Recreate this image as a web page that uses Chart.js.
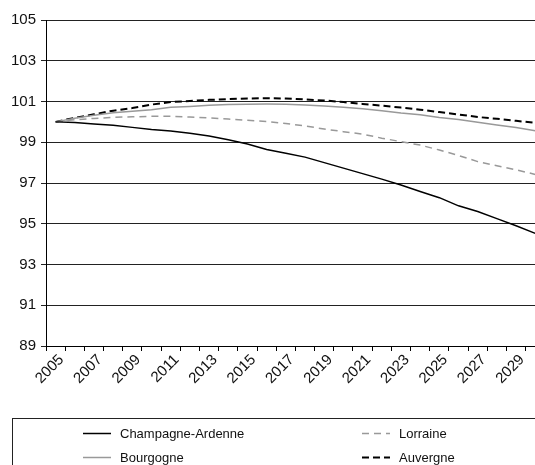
<!DOCTYPE html>
<html>
<head>
<meta charset="utf-8">
<script src="https://cdn.jsdelivr.net/npm/chart.js@4.4.1/dist/chart.umd.min.js"></script>
<style>
  html, body { margin: 0; padding: 0; overflow: hidden; background: #fff; width: 535px; height: 465px; }
  #wrap { position: absolute; left: 0; top: 0; width: 548px; height: 465px; }
</style>
</head>
<body>
<div id="wrap"><canvas id="c" width="548" height="465"></canvas></div>
<script>
const years = ['2005','2006','2007','2008','2009','2010','2011','2012','2013','2014','2015','2016','2017',
  '2018','2019','2020','2021','2022','2023','2024','2025','2026','2027','2028','2029','2030'];
const yTicks = [89, 91, 93, 95, 97, 99, 101, 103, 105];

const champagneArdenne = [100.00, 99.97, 99.90, 99.83, 99.73, 99.62, 99.55, 99.44, 99.31, 99.12, 98.91, 98.64, 98.46,
  98.27, 98.00, 97.73, 97.46, 97.19, 96.90, 96.58, 96.28, 95.88, 95.60, 95.25, 94.90, 94.53];
const lorraine = [100.00, 100.10, 100.17, 100.22, 100.25, 100.27, 100.27, 100.24, 100.20, 100.14, 100.08, 100.02, 99.92,
  99.80, 99.65, 99.52, 99.40, 99.20, 99.03, 98.86, 98.62, 98.35, 98.05, 97.85, 97.65, 97.42];
const bourgogne = [100.00, 100.18, 100.33, 100.45, 100.52, 100.60, 100.72, 100.76, 100.82, 100.85, 100.87, 100.88, 100.87,
  100.83, 100.78, 100.72, 100.64, 100.55, 100.43, 100.35, 100.22, 100.12, 99.98, 99.85, 99.72, 99.57];
const auvergne = [100.00, 100.20, 100.37, 100.55, 100.68, 100.85, 100.97, 101.03, 101.08, 101.12, 101.15, 101.16, 101.15,
  101.10, 101.05, 100.97, 100.88, 100.80, 100.70, 100.60, 100.48, 100.36, 100.24, 100.15, 100.05, 99.95];

const seriesNames = ['Champagne-Ardenne', 'Lorraine', 'Bourgogne', 'Auvergne'];

const FONT = '"Liberation Sans", Arial, Helvetica, sans-serif';

const legendPlugin = {
  id: 'boxLegend',
  afterDraw(chart) {
    const ctx = chart.ctx;
    ctx.save();
    ctx.strokeStyle = '#222';
    ctx.lineWidth = 1;
    ctx.strokeRect(12.5, 418.5, 600, 100);
    const pos = [
      {x: 83, y: 433},
      {x: 362, y: 433},
      {x: 83, y: 457},
      {x: 362, y: 457}
    ];
    chart.data.datasets.forEach((ds, i) => {
      const p = pos[i];
      ctx.beginPath();
      ctx.strokeStyle = ds.borderColor;
      ctx.lineWidth = ds.borderWidth;
      ctx.setLineDash(ds.borderDash || []);
      ctx.moveTo(p.x, p.y + 0.5);
      ctx.lineTo(p.x + 28, p.y + 0.5);
      ctx.stroke();
      ctx.setLineDash([]);
      ctx.fillStyle = '#111';
      ctx.font = '13px ' + FONT;
      ctx.textBaseline = 'middle';
      ctx.textAlign = 'left';
      ctx.fillText(ds.label, p.x + 37, p.y + 1);
    });
    ctx.restore();
  }
};

new Chart(document.getElementById('c'), {
  type: 'line',
  data: {
    labels: years,
    datasets: [
      { label: seriesNames[0], data: champagneArdenne, borderColor: '#000', borderWidth: 1.5, pointRadius: 0, tension: 0 },
      { label: seriesNames[1], data: lorraine, borderColor: '#999', borderWidth: 1.5, borderDash: [7, 5], pointRadius: 0, tension: 0 },
      { label: seriesNames[2], data: bourgogne, borderColor: '#999', borderWidth: 1.5, pointRadius: 0, tension: 0 },
      { label: seriesNames[3], data: auvergne, borderColor: '#000', borderWidth: 2, borderDash: [7, 4], pointRadius: 0, tension: 0 }
    ]
  },
  options: {
    responsive: false,
    animation: false,
    devicePixelRatio: 1,
    layout: { padding: { top: 20, right: 0, bottom: 74, left: 0 } },
    plugins: { legend: { display: false }, tooltip: { enabled: false } },
    scales: {
      x: {
        type: 'category',
        offset: true,
        grid: { offset: true, drawOnChartArea: false, drawTicks: true, tickLength: 5, color: '#000', lineWidth: 1 },
        border: { display: true, color: '#000', width: 1 },
        ticks: {
          autoSkip: false,
          maxRotation: 45,
          minRotation: 45,
          color: '#111',
          font: { family: FONT, size: 15 },
          padding: 0,
          labelOffset: 6,
          callback: function(value, index) { return index % 2 === 0 ? years[index] : ''; }
        },
        afterFit(scale) { scale.height = 45; }
      },
      y: {
        min: 89,
        max: 105,
        afterBuildTicks(scale) { scale.ticks = yTicks.map(v => ({ value: v })); },
        grid: { color: '#222', lineWidth: 1, drawTicks: true, tickLength: 5 },
        border: { display: true, color: '#000', width: 1 },
        ticks: { color: '#111', font: { family: FONT, size: 15 }, padding: 5 },
        afterFit(scale) { scale.width = 46; }
      }
    }
  },
  plugins: [legendPlugin]
});
</script>
</body>
</html>
